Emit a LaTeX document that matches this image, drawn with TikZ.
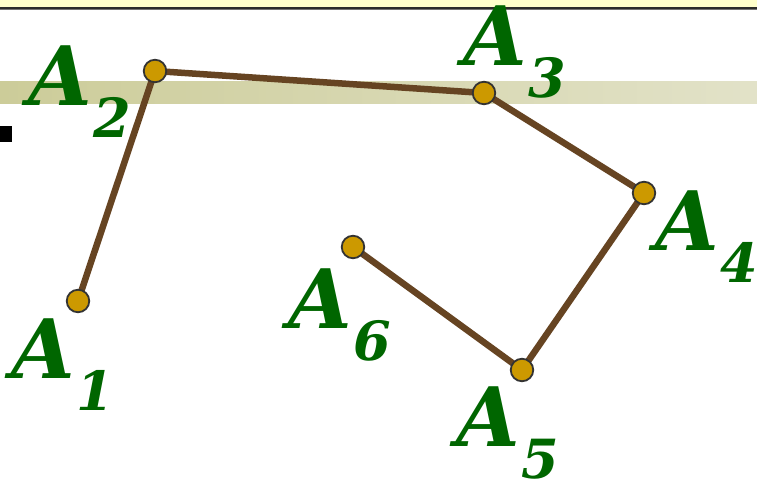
\documentclass[tikz,border=0pt]{standalone}
\usepackage{fontspec}
\newfontfamily\lblfont{DejaVu Serif}
\definecolor{lblgreen}{RGB}{0,102,0}
\definecolor{segbrown}{RGB}{102,68,34}
\definecolor{ptgold}{RGB}{204,153,0}
\definecolor{ptedge}{RGB}{51,51,51}
\definecolor{topyellow}{RGB}{255,255,204}
\definecolor{bandleft}{RGB}{204,204,153}
\definecolor{bandright}{RGB}{226,226,200}
\newcommand{\ptlabel}[1]{{\lblfont\bfseries\itshape\fontsize{82}{82}\selectfont A\kern2pt\raisebox{-32pt}{\fontsize{54}{54}\selectfont #1}}}
\begin{document}
\begin{tikzpicture}[x=1pt,y=-1pt,
  seg/.style={draw=segbrown,line width=6.5pt,line cap=round},
  pt/.style={circle,fill=ptgold,draw=ptedge,line width=1.8pt,minimum size=22.5pt,inner sep=0pt},
  lbl/.style={text=lblgreen,inner sep=0pt,anchor=base west}]
\useasboundingbox (0,0) rectangle (757,482);
\fill[white] (0,0) rectangle (757,482);
\fill[topyellow] (0,0) rectangle (757,7);
\fill[black!83] (0,6.7) rectangle (757,8.7);
\fill[black!55] (0,8.7) rectangle (757,9.7);
\shade[left color=bandleft,right color=bandright] (0,81) rectangle (757,103);
\fill[black] (0,126) rectangle (12,142);
\coordinate (p1) at (78,301);
\coordinate (p2) at (155,71);
\coordinate (p3) at (484,93);
\coordinate (p4) at (644,193);
\coordinate (p5) at (522,370);
\coordinate (p6) at (353,247);
\draw[seg] (p1) -- (p2) -- (p3) -- (p4) -- (p5) -- (p6);
\foreach \i in {1,...,6} \node[pt] (c\i) at (p\i) {};
\node[lbl] (l1) at (11,378) {\ptlabel{1}};
\node[lbl] (l2) at (28,105) {\ptlabel{2}};
\node[lbl] (l3) at (463,65) {\ptlabel{3}};
\node[lbl] (l4) at (655,250) {\ptlabel{4}};
\node[lbl] (l5) at (456,446) {\ptlabel{5}};
\node[lbl] (l6) at (288,328) {\ptlabel{6}};
\end{tikzpicture}
\end{document}
